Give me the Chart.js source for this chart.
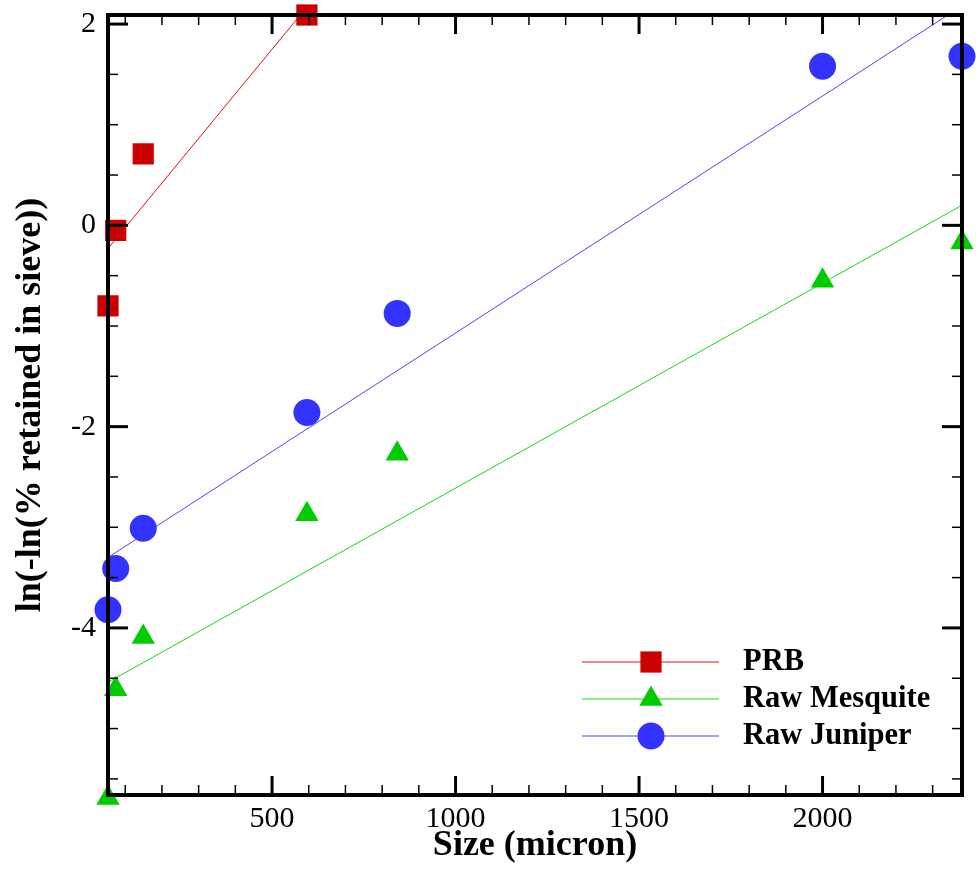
<!DOCTYPE html>
<html lang="en">
<head>
    <meta charset="UTF-8">
    <title>Size vs ln(-ln(% retained in sieve))</title>
    <script src="https://cdn.jsdelivr.net/npm/chart.js"></script>
    <style>
        body {
            margin: 0;
            padding: 0;
            background-color: white;
        }

        .container {
            width: 976px;
            height: 869px;
            position: relative;
        }
    </style>
</head>
<body>

<div class="container">
    <canvas id="sieveChart"></canvas>
</div>

<script>
    // Sieve openings (micron) and the measured values
    const sizes = [53, 74, 149, 595, 841, 2000, 2380];
    const prbSizes = [53, 74, 149, 595];
    const prbValues = [-0.80, -0.05, 0.71, 2.09];
    const mesquiteValues = [-5.69, -4.61, -4.09, -2.87, -2.27, -0.55, -0.17];
    const juniperValues = [-3.82, -3.41, -3.01, -1.86, -0.875, 1.58, 1.68];

    // Fitted lines, end points
    const prbFitX = [53, 595];
    const prbFitY = [-0.23, 2.17];
    const fitX = [53, 2380];
    const mesquiteFitY = [-4.54, 0.20];
    const juniperFitY = [-3.30, 2.18];

    const seriesNames = ['PRB', 'Raw Mesquite', 'Raw Juniper'];

    // Axis ticks
    const xTicks = [500, 1000, 1500, 2000];
    const yTicks = [-4, -2, 0, 2];
    const xRange = [53, 2380];
    const yRange = [-5.66, 2.09];

    const serif = "'Liberation Serif', 'Times New Roman', serif";

    const pts = (xs, ys) => xs.map((x, i) => ({ x: x, y: ys[i] }));

    // Frame with inward ticks on all four sides, drawn over the data like Tecplot
    const framePlugin = {
        id: 'frame',
        afterDatasetsDraw(chart) {
            const ctx = chart.ctx;
            const { left, right, top, bottom } = chart.chartArea;
            const xs = chart.scales.x;
            const ys = chart.scales.y;
            ctx.save();
            ctx.strokeStyle = '#000';

            function tick(x1, y1, x2, y2, w) {
                ctx.lineWidth = w;
                ctx.beginPath();
                ctx.moveTo(x1, y1);
                ctx.lineTo(x2, y2);
                ctx.stroke();
            }

            // minor ticks every 100 micron / 0.5
            for (let v = 100; v < xRange[1]; v += 100) {
                if (v % 500 === 0) continue;
                const px = xs.getPixelForValue(v);
                tick(px, bottom, px, bottom - 10, 1.5);
                tick(px, top, px, top + 10, 1.5);
            }
            for (let v = -5.5; v < yRange[1]; v += 0.5) {
                if (v % 2 === 0) continue;
                const py = ys.getPixelForValue(v);
                tick(left, py, left + 10, py, 1.5);
                tick(right, py, right - 10, py, 1.5);
            }
            xTicks.forEach(v => {
                const px = xs.getPixelForValue(v);
                tick(px, bottom, px, bottom - 19, 3);
                tick(px, top, px, top + 19, 3);
            });
            yTicks.forEach(v => {
                const py = ys.getPixelForValue(v);
                tick(left, py, left + 20, py, 3);
                tick(right, py, right - 20, py, 3);
            });

            ctx.lineWidth = 4;
            ctx.strokeRect(left, top, right - left, bottom - top);
            ctx.restore();
        }
    };

    // Legend inside the plot, bottom right
    const legendPlugin = {
        id: 'innerLegend',
        afterDatasetsDraw(chart) {
            const ctx = chart.ctx;
            const area = chart.chartArea;
            const x0 = area.left + 474;
            const x1 = area.left + 611;
            const xm = area.left + 543;
            const xText = area.left + 635;
            const yStart = area.top + 647;
            const gap = 37;
            ctx.save();
            seriesNames.forEach((name, i) => {
                const ds = chart.data.datasets[i];
                const line = chart.data.datasets[i + 3];
                const y = yStart + i * gap;
                ctx.strokeStyle = line.borderColor;
                ctx.lineWidth = 1;
                ctx.beginPath();
                ctx.moveTo(x0, y);
                ctx.lineTo(x1, y);
                ctx.stroke();
                ctx.fillStyle = ds.backgroundColor;
                Chart.helpers.drawPoint(ctx, {
                    pointStyle: ds.pointStyle,
                    radius: ds.pointRadius,
                    rotation: 0,
                    borderWidth: 0
                }, xm, y);
                ctx.fillStyle = '#000';
                ctx.font = "bold 30.5px " + serif;
                ctx.textAlign = 'left';
                ctx.textBaseline = 'middle';
                ctx.fillText(name, xText, y);
            });
            ctx.restore();
        }
    };

    const ctx = document.getElementById('sieveChart').getContext('2d');

    new Chart(ctx, {
        type: 'scatter',
        data: {
            datasets: [
                {
                    label: seriesNames[0],
                    data: pts(prbSizes, prbValues),
                    pointStyle: 'rect',
                    pointRadius: 15,
                    backgroundColor: '#cc0000',
                    borderWidth: 0,
                    clip: false
                },
                {
                    label: seriesNames[1],
                    data: pts(sizes, mesquiteValues),
                    pointStyle: 'triangle',
                    pointRadius: 13.5,
                    backgroundColor: '#00cc00',
                    borderWidth: 0,
                    clip: false
                },
                {
                    label: seriesNames[2],
                    data: pts(sizes, juniperValues),
                    pointStyle: 'circle',
                    pointRadius: 13.5,
                    backgroundColor: '#3333ff',
                    borderWidth: 0,
                    clip: false
                },
                {
                    label: 'PRB fit',
                    data: pts(prbFitX, prbFitY),
                    showLine: true,
                    pointRadius: 0,
                    borderColor: '#e01010',
                    borderWidth: 1
                },
                {
                    label: 'Raw Mesquite fit',
                    data: pts(fitX, mesquiteFitY),
                    showLine: true,
                    pointRadius: 0,
                    borderColor: '#10d810',
                    borderWidth: 1
                },
                {
                    label: 'Raw Juniper fit',
                    data: pts(fitX, juniperFitY),
                    showLine: true,
                    pointRadius: 0,
                    borderColor: '#4848ff',
                    borderWidth: 1
                }
            ]
        },
        options: {
            responsive: true,
            maintainAspectRatio: false,
            animation: false,
            layout: {
                autoPadding: false,
                padding: { left: 0, top: 15, right: 14, bottom: 0 }
            },
            scales: {
                x: {
                    type: 'linear',
                    min: xRange[0],
                    max: xRange[1],
                    grid: { display: false, drawTicks: false },
                    border: { display: false },
                    afterBuildTicks: s => { s.ticks = xTicks.map(v => ({ value: v })); },
                    afterFit: s => {
                        s.height = 74;
                        s.paddingLeft = 0;
                        s.paddingRight = 0;
                    },
                    ticks: {
                        color: '#000',
                        padding: 6,
                        maxRotation: 0,
                        autoSkip: false,
                        callback: v => String(v),
                        font: { family: serif, size: 30 }
                    },
                    title: {
                        display: true,
                        text: 'Size (micron)',
                        color: '#000',
                        padding: { top: 0, bottom: 2 },
                        font: { family: serif, size: 36, weight: 'bold' }
                    }
                },
                y: {
                    type: 'linear',
                    min: yRange[0],
                    max: yRange[1],
                    grid: { display: false, drawTicks: false },
                    border: { display: false },
                    afterBuildTicks: s => { s.ticks = yTicks.map(v => ({ value: v })); },
                    afterFit: s => {
                        s.width = 108;
                        s.paddingTop = 0;
                        s.paddingBottom = 0;
                    },
                    ticks: {
                        color: '#000',
                        padding: 12,
                        autoSkip: false,
                        callback: v => String(v),
                        font: { family: serif, size: 30 }
                    },
                    title: {
                        display: true,
                        text: 'ln(-ln(% retained in sieve))',
                        color: '#000',
                        padding: { top: 9, bottom: 0 },
                        font: { family: serif, size: 36, weight: 'bold' }
                    }
                }
            },
            plugins: {
                legend: { display: false },
                tooltip: { enabled: false }
            }
        },
        plugins: [framePlugin, legendPlugin]
    });
</script>

</body>
</html>
